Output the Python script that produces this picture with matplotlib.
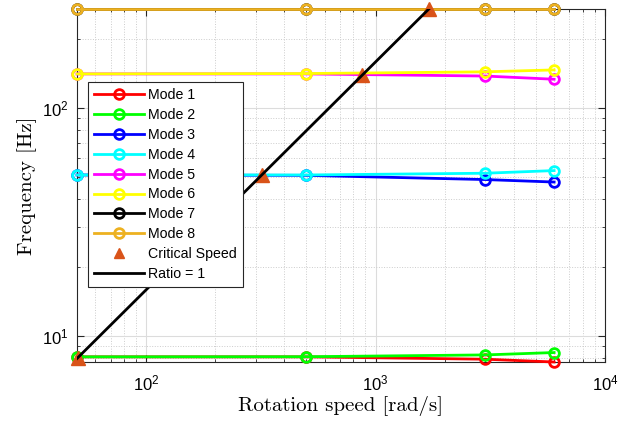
import numpy as np
import matplotlib
matplotlib.use("Agg")
import matplotlib.pyplot as plt
from matplotlib.lines import Line2D

plt.rcParams['font.family'] = ['Liberation Sans', 'DejaVu Sans']
plt.rcParams['mathtext.fontset'] = 'custom'
plt.rcParams['mathtext.rm'] = 'Liberation Sans'
plt.rcParams['mathtext.it'] = 'Liberation Sans:italic'

# rotation speeds [rad/s]
speed = [50, 500, 3000, 6000]

# natural frequencies [Hz] per mode
modes = {
    'Mode 1': [8.09, 8.09, 7.90, 7.68],
    'Mode 2': [8.09, 8.10, 8.25, 8.45],
    'Mode 3': [50.8, 50.6, 48.5, 47.3],
    'Mode 4': [50.8, 50.8, 51.7, 53.1],
    'Mode 5': [141.0, 141.0, 138.0, 133.6],
    'Mode 6': [141.0, 141.5, 144.0, 146.8],
    'Mode 7': [271.6, 271.6, 271.6, 271.6],
    'Mode 8': [271.6, 271.6, 271.6, 271.6],
}
colors = ['#ff0000', '#00ff00', '#0000ff', '#00ffff',
          '#ff00ff', '#ffff00', '#000000', '#edb120']

# critical speeds: where frequency = speed / (2*pi)
crit_freq = [8.0, 50.8, 139.5, 271.6]
crit_speed = [2 * np.pi * f for f in crit_freq]

ratio_speed = [50, 1e4]

fig = plt.figure(figsize=(6.38, 4.23), dpi=100)
ax = fig.add_axes([0.1207, 0.1442, 0.8276, 0.8345])

handles = []
for (name, freq), c in zip(modes.items(), colors):
    h, = ax.plot(speed, freq, '-o', color=c, lw=2, ms=7, mfc='none', mew=2,
                 label=name, clip_on=False, zorder=3)
    handles.append(h)

crit_col = '#d95319'
ax.plot(crit_speed, crit_freq, '^', color=crit_col, ms=10, ls='none',
        clip_on=False, zorder=4)
hr, = ax.plot(ratio_speed, [s / (2 * np.pi) for s in ratio_speed], '-',
              color='k', lw=2, label='Ratio = 1', zorder=5)
handles.append(Line2D([], [], marker='^', color=crit_col, ls='none', ms=7,
                      label='Critical Speed'))
handles.append(hr)

ax.set_xscale('log')
ax.set_yscale('log')
ax.set_xlim(50, 1e4)
ax.set_ylim(7.68, 271.6)

ax.grid(True, which='major', color='#dcdcdc', lw=0.8, ls='-')
ax.grid(True, which='minor', color='#cccccc', lw=0.7, ls=':')
ax.set_axisbelow(True)
ax.tick_params(which='both', direction='in', top=True, right=True,
               labelsize=12, color='#262626')
ax.tick_params(which='major', length=5)
ax.tick_params(which='minor', length=2.5)
ax.tick_params(axis='x', which='major', pad=8)
ax.tick_params(axis='y', which='major', pad=6)
for sp in ax.spines.values():
    sp.set_color('#262626')
    sp.set_linewidth(0.8)

ax.set_xlabel('Rotation speed [rad/s]', fontfamily='cmr10', fontsize=15,
              labelpad=2)
ax.set_ylabel('Frequency [Hz]', fontfamily='cmr10', fontsize=15,
              labelpad=4)

leg = ax.legend(handles=handles, loc='upper left',
                bbox_to_anchor=(0.0208, 0.793), borderaxespad=0,
                fancybox=False, framealpha=1, edgecolor='#262626',
                fontsize=10.2, handlelength=3.5, handletextpad=0.3,
                labelspacing=0.41, borderpad=0.45)
leg.get_frame().set_linewidth(0.8)

fig.savefig('out.png', dpi=100)
